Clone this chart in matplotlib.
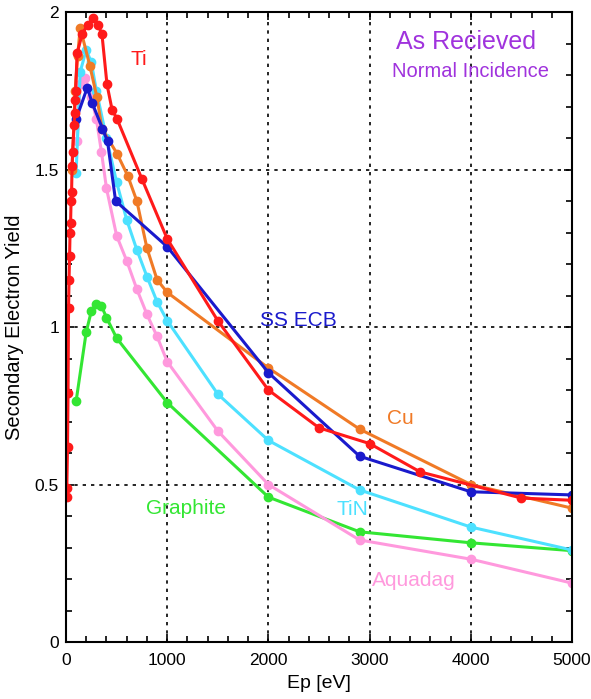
import matplotlib
matplotlib.use("Agg")
import matplotlib.pyplot as plt
from matplotlib.ticker import MultipleLocator

plt.rcParams['font.family'] = ['Liberation Sans', 'DejaVu Sans']

# SEY curves, as received, normal incidence
ti_ep = [5, 8, 15, 20, 25, 30, 35, 40, 45, 50, 55, 60, 65, 80, 85, 90, 95, 110,
         160, 215, 265, 315, 355, 405, 455, 505, 750, 1000, 1500, 2000, 2500,
         3000, 3500, 4500, 5000]
ti_sey = [0.46, 0.49, 0.62, 0.79, 1.06, 1.15, 1.225, 1.30, 1.33, 1.40, 1.43,
          1.51, 1.556, 1.64, 1.68, 1.72, 1.75, 1.87, 1.93, 1.96, 1.98, 1.96,
          1.93, 1.77, 1.69, 1.66, 1.47, 1.28, 1.02, 0.80, 0.68, 0.63, 0.54,
          0.457, 0.45]

cu_ep = [60, 90, 115, 140, 235, 305, 355, 505, 610, 700, 800, 900, 1000, 2000,
         2900, 4000, 5000]
cu_sey = [1.50, 1.75, 1.86, 1.95, 1.83, 1.73, 1.63, 1.55, 1.48, 1.40, 1.25,
          1.15, 1.11, 0.87, 0.676, 0.50, 0.425]

ss_ep = [100, 210, 260, 360, 410, 490, 1000, 2000, 2900, 4000, 5000]
ss_sey = [1.66, 1.76, 1.71, 1.63, 1.59, 1.40, 1.255, 0.855, 0.59, 0.477, 0.467]

tin_ep = [100, 140, 200, 250, 300, 400, 500, 600, 700, 800, 900, 1000, 1500,
          2000, 2900, 4000, 5000]
tin_sey = [1.49, 1.81, 1.88, 1.84, 1.75, 1.60, 1.46, 1.34, 1.245, 1.16, 1.08,
           1.02, 0.787, 0.64, 0.483, 0.365, 0.292]

aq_ep = [110, 140, 190, 250, 300, 350, 400, 500, 600, 700, 800, 900, 1000,
         1500, 2000, 2900, 4000, 5000]
aq_sey = [1.59, 1.77, 1.79, 1.73, 1.66, 1.556, 1.44, 1.29, 1.21, 1.12, 1.04,
          0.97, 0.89, 0.67, 0.50, 0.324, 0.263, 0.187]

gr_ep = [100, 200, 250, 300, 350, 400, 500, 1000, 2000, 2900, 4000, 5000]
gr_sey = [0.765, 0.985, 1.05, 1.073, 1.067, 1.03, 0.965, 0.76, 0.46, 0.35,
          0.315, 0.29]

x_ticks = [0, 1000, 2000, 3000, 4000, 5000]
y_ticks = [0, 0.5, 1, 1.5, 2]
y_tick_labels = ['0', '0.5', '1', '1.5', '2']

fig = plt.figure(figsize=(5.91, 6.99), dpi=100)
ax = fig.add_axes([0.1117, 0.0815, 0.8562, 0.9013])

series = [
    (gr_ep, gr_sey, '#33e633'),
    (aq_ep, aq_sey, '#ff99dd'),
    (tin_ep, tin_sey, '#4de1ff'),
    (cu_ep, cu_sey, '#f07a26'),
    (ss_ep, ss_sey, '#1a1acc'),
    (ti_ep, ti_sey, '#ff1a1a'),
]
for ep, sey, col in series:
    ax.plot(ep, sey, '-o', color=col, lw=2.2, ms=6)

# curve labels
lab = dict(fontsize=15, ha='center', va='center')
ax.text(720, 1.85, 'Ti', color='#ff1a1a', **lab)
ax.text(2300, 1.02, 'SS ECB', color='#1a1acc', **lab)
ax.text(3300, 0.71, 'Cu', color='#f07a26', **lab)
ax.text(2830, 0.42, 'TiN', color='#4de1ff', **lab)
ax.text(1190, 0.425, 'Graphite', color='#33e633', **lab)
ax.text(3440, 0.195, 'Aquadag', color='#ff99dd', **lab)
ax.text(3950, 1.905, 'As Recieved', color='#a033dd', fontsize=18, ha='center', va='center')
ax.text(4000, 1.81, 'Normal Incidence', color='#a033dd', fontsize=14.5, ha='center', va='center')

ax.set_xlim(0, 5000)
ax.set_ylim(0, 2)
ax.set_xticks(x_ticks)
ax.set_xticklabels([str(t) for t in x_ticks])
ax.xaxis.set_minor_locator(MultipleLocator(200))
ax.set_yticks(y_ticks)
ax.set_yticklabels(y_tick_labels)
ax.yaxis.set_minor_locator(MultipleLocator(0.1))
ax.tick_params(which='both', direction='in', top=True, right=True, labelsize=12.5)
ax.tick_params(axis='x', pad=8)
ax.tick_params(axis='y', pad=5)
ax.tick_params(which='major', length=6, width=1.2)
ax.tick_params(which='minor', length=4, width=1.2)
for s in ax.spines.values():
    s.set_linewidth(1.5)
ax.grid(True, which='major', color='black', linestyle=(0, (2, 3)), lw=1.2)

ax.set_xlabel('Ep [eV]', fontsize=14, labelpad=5)
ax.set_ylabel('Secondary Electron Yield', fontsize=14.5, labelpad=8)

plt.savefig('out.png', dpi=100)
